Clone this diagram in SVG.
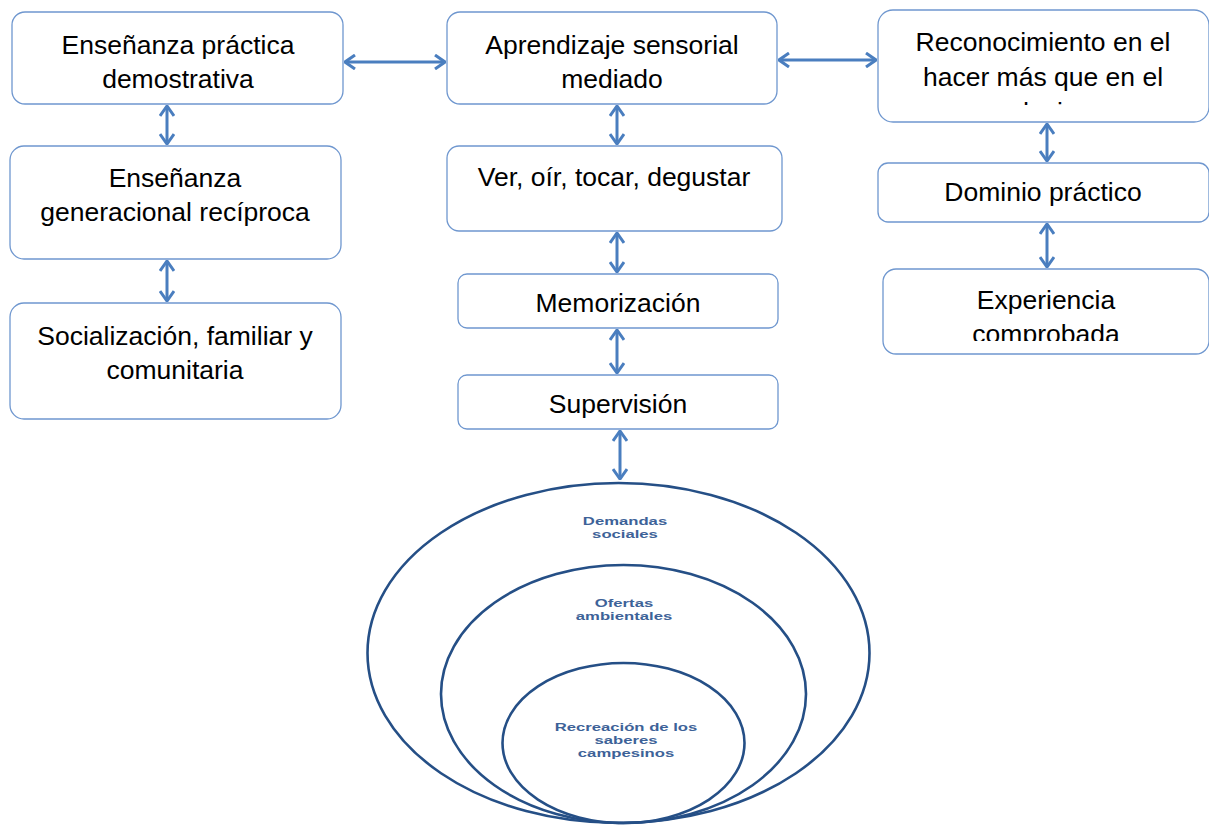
<svg xmlns="http://www.w3.org/2000/svg" width="1209" height="826" viewBox="0 0 1209 826">
<style>
.box{fill:#fff;stroke:#6f97cf;stroke-width:1.3}
.t{font-family:"Liberation Sans",Arial,sans-serif;font-size:26.5px;fill:#000;text-anchor:middle}
.c{fill:none;stroke:#4a7ebf;stroke-width:3}
.e{fill:none;stroke:#254f86;stroke-width:2.6}
.et{font-family:"Liberation Sans",Arial,sans-serif;font-size:11.5px;font-weight:bold;fill:#3d6298;text-anchor:middle}
</style>
<defs>
<marker id="ah" viewBox="0 0 12 16" refX="11" refY="8" markerWidth="12" markerHeight="16" markerUnits="userSpaceOnUse" orient="auto-start-reverse">
<path d="M1,1 L11,8 L1,15" fill="none" stroke="#4a7ebf" stroke-width="3"/>
</marker>
<clipPath id="c3"><rect x="878" y="10" width="331" height="95"/></clipPath>
<clipPath id="c9"><rect x="883" y="269" width="326" height="72"/></clipPath>
</defs>
<rect width="1209" height="826" fill="#fff"/>
<g id="connectors">
<line class="c" x1="345" y1="62" x2="445" y2="62" marker-start="url(#ah)" marker-end="url(#ah)"/>
<line class="c" x1="779" y1="60" x2="876" y2="60" marker-start="url(#ah)" marker-end="url(#ah)"/>
<line class="c" x1="167" y1="106" x2="167" y2="144" marker-start="url(#ah)" marker-end="url(#ah)"/>
<line class="c" x1="167" y1="261" x2="167" y2="301" marker-start="url(#ah)" marker-end="url(#ah)"/>
<line class="c" x1="617" y1="106" x2="617" y2="144" marker-start="url(#ah)" marker-end="url(#ah)"/>
<line class="c" x1="617" y1="233" x2="617" y2="272" marker-start="url(#ah)" marker-end="url(#ah)"/>
<line class="c" x1="617" y1="330" x2="617" y2="373" marker-start="url(#ah)" marker-end="url(#ah)"/>
<line class="c" x1="620" y1="431" x2="620" y2="479" marker-start="url(#ah)" marker-end="url(#ah)"/>
<line class="c" x1="1047" y1="124" x2="1047" y2="161" marker-start="url(#ah)" marker-end="url(#ah)"/>
<line class="c" x1="1047" y1="224" x2="1047" y2="267" marker-start="url(#ah)" marker-end="url(#ah)"/>
</g>
<g id="n1"><rect class="box" x="12" y="12" width="331" height="92" rx="13"/>
<text class="t" x="178" y="54">Enseñanza práctica</text><text class="t" x="178" y="88">demostrativa</text></g>
<g id="n2"><rect class="box" x="447" y="12" width="330" height="92" rx="13"/>
<text class="t" x="612" y="54">Aprendizaje sensorial</text><text class="t" x="612" y="88">mediado</text></g>
<g id="n3"><rect class="box" x="878" y="10" width="331" height="112" rx="15"/>
<g clip-path="url(#c3)"><text class="t" x="1043" y="51">Reconocimiento en el</text><text class="t" x="1043" y="86">hacer más que en el</text><text class="t" x="1043" y="121">decir</text></g></g>
<g id="n4"><rect class="box" x="10" y="146" width="331" height="113" rx="14"/>
<text class="t" x="175" y="187">Enseñanza</text><text class="t" x="175" y="221">generacional recíproca</text></g>
<g id="n5"><rect class="box" x="447" y="146" width="335" height="85" rx="12"/>
<text class="t" x="614" y="186">Ver, oír, tocar, degustar</text></g>
<g id="n6"><rect class="box" x="878" y="163" width="331" height="59" rx="10"/>
<text class="t" x="1043" y="201">Dominio práctico</text></g>
<g id="n7"><rect class="box" x="10" y="303" width="331" height="116" rx="14"/>
<text class="t" x="175" y="345">Socialización, familiar y</text><text class="t" x="175" y="379">comunitaria</text></g>
<g id="n8"><rect class="box" x="458" y="274" width="320" height="54" rx="9"/>
<text class="t" x="618" y="312">Memorización</text></g>
<g id="n9"><rect class="box" x="883" y="269" width="326" height="85" rx="13"/>
<g clip-path="url(#c9)"><text class="t" x="1046" y="309">Experiencia</text><text class="t" x="1046" y="343">comprobada</text></g></g>
<g id="n10"><rect class="box" x="458" y="375" width="320" height="54" rx="9"/>
<text class="t" x="618" y="413">Supervisión</text></g>
<g id="circles">
<ellipse class="e" cx="618.5" cy="653" rx="251" ry="170"/>
<ellipse class="e" cx="623.5" cy="694" rx="182.5" ry="129"/>
<ellipse class="e" cx="623.5" cy="743" rx="121" ry="80"/>
<g transform="translate(625,0) scale(1.45,1)">
<text class="et" x="0" y="525">Demandas</text><text class="et" x="0" y="538">sociales</text>
</g>
<g transform="translate(624,0) scale(1.45,1)">
<text class="et" x="0" y="607">Ofertas</text><text class="et" x="0" y="620">ambientales</text>
</g>
<g transform="translate(626,0) scale(1.45,1)">
<text class="et" x="0" y="731">Recreación de los</text><text class="et" x="0" y="744">saberes</text><text class="et" x="0" y="757">campesinos</text>
</g>
</g>
</svg>
